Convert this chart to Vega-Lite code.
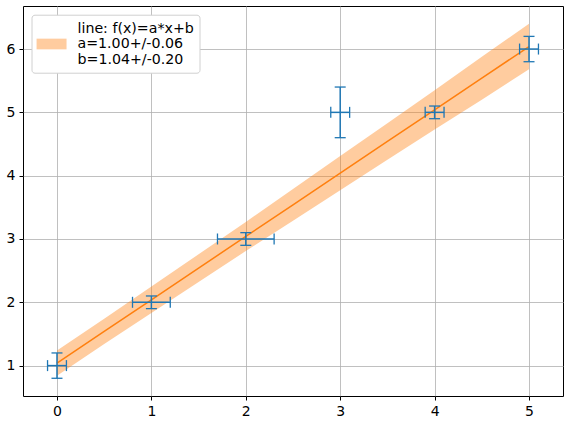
{
  "$schema": "https://vega.github.io/schema/vega-lite/v6.json",
  "width": 540,
  "height": 390,
  "autosize": {"type": "none"},
  "padding": {"left": 23, "top": 6, "right": 5, "bottom": 28},
  "background": "white",
  "config": {
    "view": {"stroke": "black", "strokeWidth": 1},
    "font": "DejaVu Sans",
    "axis": {
      "labelFont": "DejaVu Sans", "labelFontSize": 14, "labelColor": "black",
      "tickColor": "black", "tickSize": 4, "tickWidth": 1,
      "domain": false, "grid": true, "gridColor": "#b0b0b0", "gridWidth": 0.8,
      "title": null, "labelPadding": 4
    }
  },
  "datasets": {
    "pts": [
      {"x": 0, "y": 1, "xlo": -0.1, "xhi": 0.1, "ylo": 0.8, "yhi": 1.2},
      {"x": 1, "y": 2, "xlo": 0.8, "xhi": 1.2, "ylo": 1.9, "yhi": 2.1},
      {"x": 2, "y": 3, "xlo": 1.7, "xhi": 2.3, "ylo": 2.9, "yhi": 3.1},
      {"x": 3, "y": 5, "xlo": 2.9, "xhi": 3.1, "ylo": 4.6, "yhi": 5.4},
      {"x": 4, "y": 5, "xlo": 3.9, "xhi": 4.1, "ylo": 4.9, "yhi": 5.1},
      {"x": 5, "y": 6, "xlo": 4.9, "xhi": 5.1, "ylo": 5.8, "yhi": 6.2}
    ],
    "fit": [
      {"x": 0, "fit": 1.04, "lo": 0.84, "hi": 1.24, "series": "line: f(x)=a*x+b|a=1.00+/-0.06|b=1.04+/-0.20"},
      {"x": 0.5, "fit": 1.54, "lo": 1.34, "hi": 1.74, "series": "line: f(x)=a*x+b|a=1.00+/-0.06|b=1.04+/-0.20"},
      {"x": 1, "fit": 2.04, "lo": 1.83, "hi": 2.25, "series": "line: f(x)=a*x+b|a=1.00+/-0.06|b=1.04+/-0.20"},
      {"x": 1.5, "fit": 2.54, "lo": 2.32, "hi": 2.76, "series": "line: f(x)=a*x+b|a=1.00+/-0.06|b=1.04+/-0.20"},
      {"x": 2, "fit": 3.04, "lo": 2.81, "hi": 3.27, "series": "line: f(x)=a*x+b|a=1.00+/-0.06|b=1.04+/-0.20"},
      {"x": 2.5, "fit": 3.54, "lo": 3.29, "hi": 3.79, "series": "line: f(x)=a*x+b|a=1.00+/-0.06|b=1.04+/-0.20"},
      {"x": 3, "fit": 4.04, "lo": 3.77, "hi": 4.31, "series": "line: f(x)=a*x+b|a=1.00+/-0.06|b=1.04+/-0.20"},
      {"x": 3.5, "fit": 4.54, "lo": 4.25, "hi": 4.83, "series": "line: f(x)=a*x+b|a=1.00+/-0.06|b=1.04+/-0.20"},
      {"x": 4, "fit": 5.04, "lo": 4.73, "hi": 5.35, "series": "line: f(x)=a*x+b|a=1.00+/-0.06|b=1.04+/-0.20"},
      {"x": 4.5, "fit": 5.54, "lo": 5.2, "hi": 5.88, "series": "line: f(x)=a*x+b|a=1.00+/-0.06|b=1.04+/-0.20"},
      {"x": 5, "fit": 6.04, "lo": 5.68, "hi": 6.4, "series": "line: f(x)=a*x+b|a=1.00+/-0.06|b=1.04+/-0.20"}
    ]
  },
  "encoding": {
    "x": {"type": "quantitative", "scale": {"domain": [-0.36, 5.36], "nice": false, "zero": false}, "axis": {"values": [0, 1, 2, 3, 4, 5]}},
    "y": {"type": "quantitative", "scale": {"domain": [0.52, 6.68], "nice": false, "zero": false}, "axis": {"values": [1, 2, 3, 4, 5, 6]}}
  },
  "layer": [
    {
      "data": {"name": "fit"},
      "mark": {"type": "area", "fillOpacity": 0.4},
      "encoding": {
        "x": {"field": "x", "type": "quantitative"},
        "y": {"field": "lo", "type": "quantitative"},
        "y2": {"field": "hi"},
        "fill": {
          "field": "series", "type": "nominal",
          "scale": {"range": ["#ff7f0e"]},
          "legend": {
            "title": null,
            "orient": "none", "legendX": 8.5, "legendY": 8.7,
            "labelExpr": "split(datum.label, '|')",
            "labelFont": "DejaVu Sans", "labelFontSize": 14.2, "labelColor": "black",
            "labelLimit": 400, "labelOffset": 23,
            "symbolType": "M-1.03,1.149H2.43V2.385H-1.03Z", "symbolSize": 300,
            "symbolOpacity": 0.4, "symbolStrokeWidth": 0,
            "fillColor": "white", "strokeColor": "#d0d0d0", "cornerRadius": 3,
            "padding": 5,
            "encode": {
              "labels": {"update": {"lineHeight": {"value": 15.5}}}
            }
          }
        }
      }
    },
    {
      "data": {"name": "fit"},
      "mark": {"type": "line", "color": "#ff7f0e", "strokeWidth": 1.5},
      "encoding": {
        "x": {"field": "x", "type": "quantitative"},
        "y": {"field": "fit", "type": "quantitative"}
      }
    },
    {
      "data": {"name": "pts"},
      "mark": {"type": "rule", "color": "#1f77b4", "strokeWidth": 1.5},
      "encoding": {
        "x": {"field": "xlo", "type": "quantitative"},
        "x2": {"field": "xhi"},
        "y": {"field": "y", "type": "quantitative"}
      }
    },
    {
      "data": {"name": "pts"},
      "mark": {"type": "rule", "color": "#1f77b4", "strokeWidth": 1.5},
      "encoding": {
        "x": {"field": "x", "type": "quantitative"},
        "y": {"field": "ylo", "type": "quantitative"},
        "y2": {"field": "yhi"}
      }
    },
    {
      "data": {"name": "pts"},
      "mark": {"type": "tick", "orient": "vertical", "color": "#1f77b4", "size": 11, "thickness": 1.3, "opacity": 1},
      "encoding": {
        "x": {"field": "xlo", "type": "quantitative"},
        "y": {"field": "y", "type": "quantitative"}
      }
    },
    {
      "data": {"name": "pts"},
      "mark": {"type": "tick", "orient": "vertical", "color": "#1f77b4", "size": 11, "thickness": 1.3, "opacity": 1},
      "encoding": {
        "x": {"field": "xhi", "type": "quantitative"},
        "y": {"field": "y", "type": "quantitative"}
      }
    },
    {
      "data": {"name": "pts"},
      "mark": {"type": "tick", "orient": "horizontal", "color": "#1f77b4", "size": 11, "thickness": 1.3, "opacity": 1},
      "encoding": {
        "x": {"field": "x", "type": "quantitative"},
        "y": {"field": "ylo", "type": "quantitative"}
      }
    },
    {
      "data": {"name": "pts"},
      "mark": {"type": "tick", "orient": "horizontal", "color": "#1f77b4", "size": 11, "thickness": 1.3, "opacity": 1},
      "encoding": {
        "x": {"field": "x", "type": "quantitative"},
        "y": {"field": "yhi", "type": "quantitative"}
      }
    }
  ]
}
